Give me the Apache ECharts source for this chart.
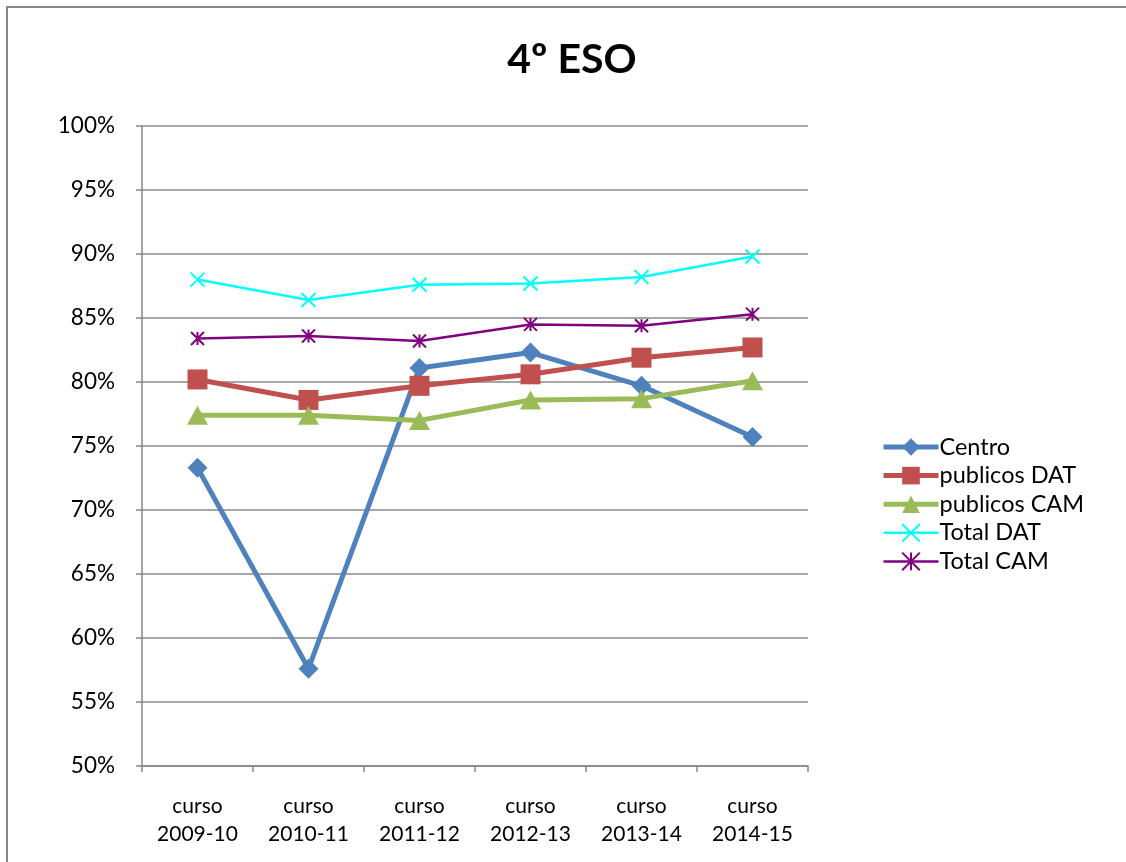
<!DOCTYPE html>
<html>
<head>
<meta charset="utf-8">
<script src="https://cdn.jsdelivr.net/npm/echarts@6/dist/echarts.min.js"></script>
<style>
  html, body { margin: 0; padding: 0; background: #fff; overflow: hidden; }
  #frame { position: absolute; left: 6px; top: 6px; width: 1140px; height: 880px; border: 2px solid #888; box-sizing: border-box; }
  #chart { position: absolute; left: 0; top: 0; width: 1126px; height: 862px; }
</style>
</head>
<body>
<div id="frame"></div>
<div id="chart"></div>
<script>
const categories = ['curso\n2009-10', 'curso\n2010-11', 'curso\n2011-12', 'curso\n2012-13', 'curso\n2013-14', 'curso\n2014-15']
const centro = [73.3, 57.6, 81.1, 82.3, 79.7, 75.7]
const publicosDAT = [80.2, 78.6, 79.7, 80.6, 81.9, 82.7]
const publicosCAM = [77.4, 77.4, 77.0, 78.6, 78.7, 80.1]
const totalDAT = [88.0, 86.4, 87.6, 87.7, 88.2, 89.8]
const totalCAM = [83.4, 83.6, 83.2, 84.5, 84.4, 85.3]

const font = 'Lato, "Open Sans", sans-serif'
const gray = '#888'
const crossPath = 'path://M0,0L10,10M10,0L0,10'
const starPath = 'path://M5,0L5,10M0,0L10,10M10,0L0,10'

const chart = echarts.init(document.getElementById('chart'))
chart.setOption({
  animation: false,
  textStyle: { fontFamily: font },
  title: {
    text: '4º ESO',
    left: 567,
    textAlign: 'center',
    top: 34,
    textStyle: { fontFamily: font, fontSize: 41, fontWeight: 'bold', color: '#000' }
  },
  grid: { left: 142, right: 318, top: 126, bottom: 96 },
  legend: {
    orient: 'vertical',
    left: 876,
    top: 430,
    itemWidth: 55,
    itemHeight: 22,
    itemGap: 4.6,
    lineStyle: { width: 'inherit' },
    textStyle: { fontFamily: font, fontSize: 23.5, color: '#000', padding: [0, 0, 0, -4] },
    data: ['Centro', 'publicos DAT', 'publicos CAM', 'Total DAT', 'Total CAM']
  },
  xAxis: {
    type: 'category',
    data: categories,
    boundaryGap: true,
    axisLine: { lineStyle: { color: gray, width: 1.5 } },
    axisTick: { show: true, length: 6, lineStyle: { color: gray, width: 1.5 } },
    axisLabel: { fontFamily: font, fontSize: 21, color: '#000', lineHeight: 28, margin: 26 }
  },
  yAxis: {
    type: 'value',
    min: 50,
    max: 100,
    interval: 5,
    axisLine: { show: true, lineStyle: { color: gray, width: 1.5 } },
    axisTick: { show: true, length: 6, lineStyle: { color: gray, width: 1.5 } },
    axisLabel: { formatter: '{value}%', fontFamily: font, fontSize: 22.5, color: '#000', margin: 27 },
    splitLine: { lineStyle: { color: gray, width: 1.5 } }
  },
  series: [
    {
      name: 'Centro', type: 'line', data: centro,
      symbol: 'diamond', symbolSize: 20,
      lineStyle: { color: '#4F81BD', width: 5 },
      itemStyle: { color: '#4F81BD' }
    },
    {
      name: 'publicos DAT', type: 'line', data: publicosDAT,
      symbol: 'rect', symbolSize: 20,
      lineStyle: { color: '#C0504D', width: 5 },
      itemStyle: { color: '#C0504D' }
    },
    {
      name: 'publicos CAM', type: 'line', data: publicosCAM,
      symbol: 'triangle', symbolSize: [21, 19],
      lineStyle: { color: '#9BBB59', width: 5 },
      itemStyle: { color: '#9BBB59' }
    },
    {
      name: 'Total DAT', type: 'line', data: totalDAT,
      symbol: crossPath, symbolSize: 14,
      lineStyle: { color: '#00FFFF', width: 2.5 },
      itemStyle: { color: 'rgba(0,0,0,0)', borderColor: '#00FFFF', borderWidth: 2 }
    },
    {
      name: 'Total CAM', type: 'line', data: totalCAM,
      symbol: starPath, symbolSize: 13,
      lineStyle: { color: '#800080', width: 2.5 },
      itemStyle: { color: 'rgba(0,0,0,0)', borderColor: '#800080', borderWidth: 2 }
    }
  ]
})
</script>
</body>
</html>
